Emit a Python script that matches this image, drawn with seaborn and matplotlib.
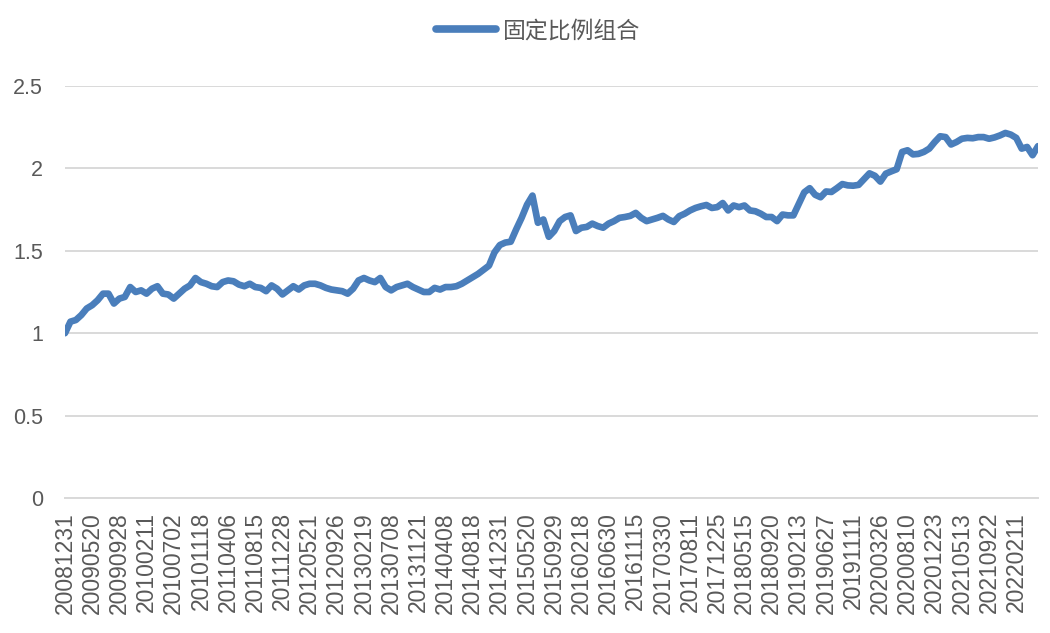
import numpy as np
import pandas as pd
import matplotlib
matplotlib.use("Agg")
import matplotlib.pyplot as plt
import seaborn as sns

series_name = "固定比例组合"

tick_labels = [
    "20081231", "20090520", "20090928", "20100211", "20100702", "20101118",
    "20110406", "20110815", "20111228", "20120521", "20120926", "20130219",
    "20130708", "20131121", "20140408", "20140818", "20141231", "20150520",
    "20150929", "20160218", "20160630", "20161115", "20170330", "20170811",
    "20171225", "20180515", "20180920", "20190213", "20190627", "20191111",
    "20200326", "20200810", "20201223", "20210513", "20210922", "20220211",
]

values = [
    1.00, 1.07, 1.08, 1.11, 1.15, 1.17, 1.20, 1.24, 1.24, 1.18,
    1.21, 1.22, 1.28, 1.25, 1.26, 1.24, 1.27, 1.285, 1.24, 1.235,
    1.21, 1.24, 1.27, 1.29, 1.335, 1.31, 1.30, 1.285, 1.28, 1.31,
    1.32, 1.315, 1.295, 1.285, 1.30, 1.28, 1.275, 1.255, 1.29, 1.27,
    1.235, 1.26, 1.285, 1.265, 1.29, 1.30, 1.30, 1.29, 1.275, 1.265,
    1.26, 1.255, 1.24, 1.27, 1.32, 1.335, 1.32, 1.31, 1.335, 1.28,
    1.26, 1.28, 1.29, 1.30, 1.28, 1.265, 1.25, 1.25, 1.275, 1.265,
    1.28, 1.28, 1.285, 1.30, 1.32, 1.34, 1.36, 1.385, 1.41, 1.49,
    1.535, 1.55, 1.555, 1.63, 1.70, 1.78, 1.835, 1.67, 1.69, 1.585,
    1.62, 1.68, 1.705, 1.715, 1.62, 1.64, 1.645, 1.665, 1.65, 1.64,
    1.665, 1.68, 1.70, 1.705, 1.712, 1.73, 1.70, 1.68, 1.69, 1.70,
    1.712, 1.69, 1.675, 1.71, 1.725, 1.745, 1.76, 1.77, 1.778, 1.76,
    1.765, 1.79, 1.745, 1.775, 1.765, 1.775, 1.745, 1.74, 1.725, 1.705,
    1.705, 1.68, 1.72, 1.715, 1.715, 1.785, 1.855, 1.88, 1.84, 1.825,
    1.86, 1.857, 1.88, 1.905, 1.897, 1.895, 1.90, 1.935, 1.97, 1.955,
    1.92, 1.968, 1.982, 1.995, 2.10, 2.11, 2.085, 2.088, 2.10, 2.12,
    2.16, 2.195, 2.19, 2.145, 2.16, 2.18, 2.185, 2.183, 2.19, 2.19,
    2.18, 2.188, 2.20, 2.215, 2.205, 2.185, 2.12, 2.13, 2.08, 2.135,
]

label_step = 5
y_ticks = [0, 0.5, 1, 1.5, 2, 2.5]
y_tick_text = ["0", "0.5", "1", "1.5", "2", "2.5"]

sns.set_theme(style="white")
plt.rcParams["font.family"] = ["Liberation Sans", "Noto Sans CJK SC", "DejaVu Sans"]

df = pd.DataFrame({"idx": np.arange(len(values)), "value": values, "name": series_name})

fig = plt.figure(figsize=(10.5, 6.33), dpi=100)
ax = fig.add_axes([65 / 1050, 1 - 498 / 633, (1038 - 65) / 1050, (498 - 86) / 633])

sns.lineplot(data=df, x="idx", y="value", hue="name", palette=["#4a7ebb"],
             linewidth=4.8, ax=ax, legend=True)
for ln in ax.get_lines():
    ln.set_solid_joinstyle("round")
    ln.set_solid_capstyle("round")

ax.set_xlim(0, len(values) - 1)
ax.set_ylim(0, 2.5)
ax.set_yticks(y_ticks)
ax.set_yticklabels(y_tick_text)
tick_pos = list(range(0, len(tick_labels) * label_step, label_step))
ax.set_xticks(tick_pos)
ax.set_xticklabels(tick_labels, rotation=90)
ax.set_xlabel("")
ax.set_ylabel("")

ax.grid(axis="y", color="#d9d9d9", linewidth=1.4)
ax.grid(axis="x", visible=False)
for s in ["top", "right", "left"]:
    ax.spines[s].set_visible(False)
ax.spines["bottom"].set_color("#d9d9d9")
ax.spines["bottom"].set_linewidth(1.4)
ax.set_axisbelow(True)

ax.tick_params(axis="y", length=0, pad=16, labelsize=15.5, labelcolor="#595959")
ax.tick_params(axis="x", length=0, pad=10, labelsize=16.5, labelcolor="#595959")

handles, labels = ax.get_legend_handles_labels()
ax.legend_.remove()
leg = fig.legend(handles, labels, loc="center", bbox_to_anchor=(538 / 1050, 1 - 31 / 633),
                 frameon=False, handlelength=2.6, handletextpad=0.3,
                 prop={"family": ["Noto Sans CJK SC", "DejaVu Sans"], "size": 16.5})
for t in leg.get_texts():
    t.set_color("#595959")
for l in leg.get_lines():
    l.set_linewidth(5.5)
    l.set_solid_capstyle("round")

fig.savefig("out.png", dpi=100)
